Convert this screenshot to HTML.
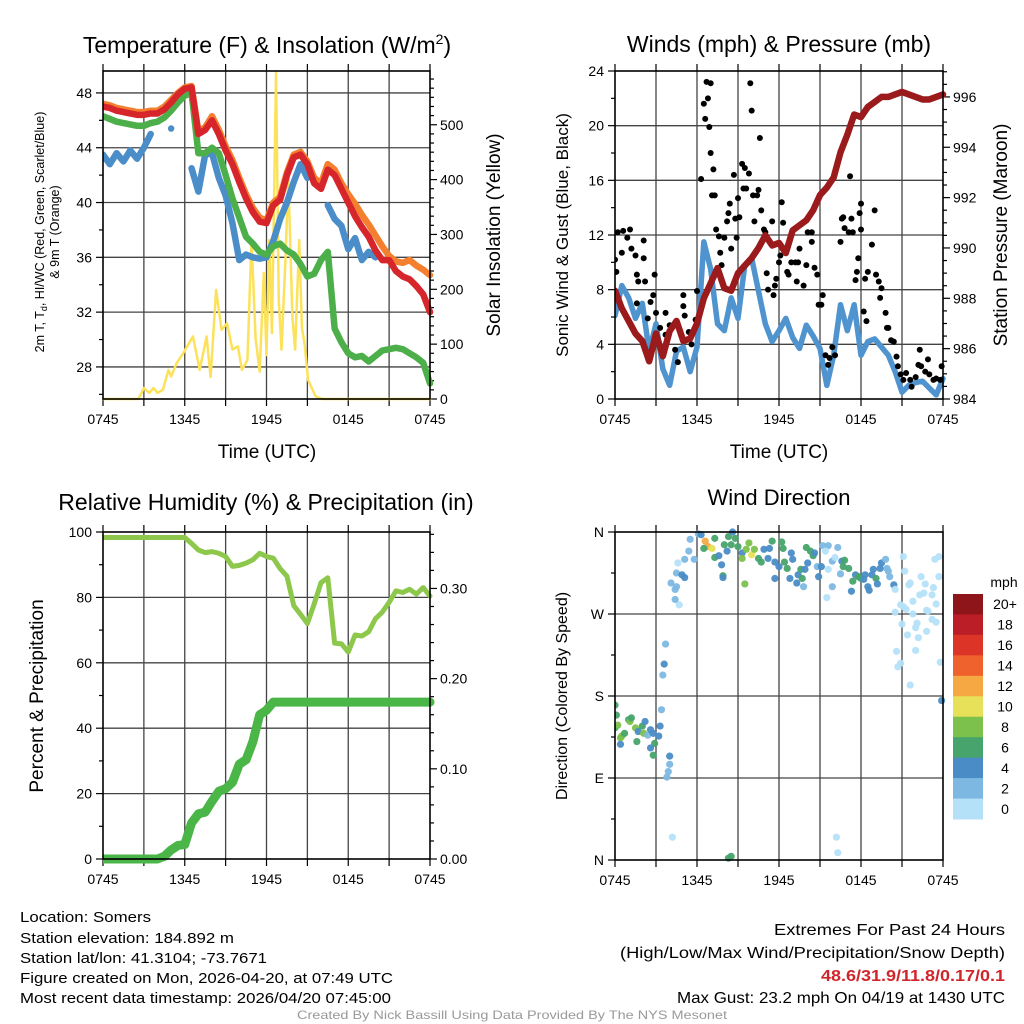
<!DOCTYPE html>
<html><head><meta charset="utf-8"><style>
html,body{margin:0;padding:0;background:#fff;}
svg{display:block;font-family:"Liberation Sans",Arial,sans-serif;}
</style></head><body>
<svg id="fig" width="1024" height="1024" viewBox="0 0 1024 1024" xmlns="http://www.w3.org/2000/svg">
<rect width="1024" height="1024" fill="#fff"/>
<g id="layer"></g>
<text x="267" y="53" font-size="23" text-anchor="middle">Temperature (F) &amp; Insolation (W/m<tspan font-size="14" dy="-9">2</tspan><tspan dy="9">)</tspan></text>
<text x="779" y="52" font-size="23" text-anchor="middle">Winds (mph) &amp; Pressure (mb)</text>
<text x="266" y="510" font-size="23" text-anchor="middle">Relative Humidity (%) &amp; Precipitation (in)</text>
<text x="779" y="505" font-size="22" text-anchor="middle">Wind Direction</text>
<text x="267" y="458" font-size="19" text-anchor="middle">Time (UTC)</text>
<text x="779" y="458" font-size="19" text-anchor="middle">Time (UTC)</text>
<text transform="translate(44,232) rotate(-90)" font-size="12.5" text-anchor="middle">2m T, T<tspan font-size="9" dy="3">d</tspan><tspan dy="-3">, HI/WC (Red, Green, Scarlet/Blue)</tspan></text>
<text transform="translate(59,232) rotate(-90)" font-size="12.5" text-anchor="middle">&amp; 9m T (Orange)</text>
<text transform="translate(500,235) rotate(-90)" font-size="19" text-anchor="middle">Solar Insolation (Yellow)</text>
<text transform="translate(568,235) rotate(-90)" font-size="17" text-anchor="middle">Sonic Wind &amp; Gust (Blue, Black)</text>
<text transform="translate(1007,235) rotate(-90)" font-size="19" text-anchor="middle">Station Pressure (Maroon)</text>
<text transform="translate(43,696) rotate(-90)" font-size="19" text-anchor="middle">Percent &amp; Precipitation</text>
<text transform="translate(567,696) rotate(-90)" font-size="16" text-anchor="middle">Direction (Colored By Speed)</text>
<g font-size="15">
<text x="20" y="922" textLength="131" lengthAdjust="spacingAndGlyphs">Location: Somers</text>
<text x="20" y="943" textLength="214" lengthAdjust="spacingAndGlyphs">Station elevation: 184.892 m</text>
<text x="20" y="963" textLength="247" lengthAdjust="spacingAndGlyphs">Station lat/lon: 41.3104; -73.7671</text>
<text x="20" y="983" textLength="373" lengthAdjust="spacingAndGlyphs">Figure created on Mon, 2026-04-20, at 07:49 UTC</text>
<text x="20" y="1003" textLength="371" lengthAdjust="spacingAndGlyphs">Most recent data timestamp: 2026/04/20 07:45:00</text>
</g>
<g font-size="16" text-anchor="end">
<text x="1005" y="935" textLength="231" lengthAdjust="spacingAndGlyphs">Extremes For Past 24 Hours</text>
<text x="1005" y="958" textLength="385" lengthAdjust="spacingAndGlyphs">(High/Low/Max Wind/Precipitation/Snow Depth)</text>
<text x="1005" y="981" fill="#d0262b" font-weight="bold" textLength="184" lengthAdjust="spacingAndGlyphs">48.6/31.9/11.8/0.17/0.1</text>
<text x="1005" y="1003" textLength="328" lengthAdjust="spacingAndGlyphs">Max Gust: 23.2 mph On 04/19 at 1430 UTC</text>
</g>
<text x="512" y="1019" font-size="12" fill="#999" text-anchor="middle" textLength="430" lengthAdjust="spacingAndGlyphs">Created By Nick Bassill Using Data Provided By The NYS Mesonet</text>
</svg>
<script>
// ---------- DATA ----------
const halfHours = [0,0.5,1,1.5,2,2.5,3,3.5,4,4.5,5,5.5,6,6.5,7,7.5,8,8.5,9,9.5,10,10.5,11,11.5,12,12.5,13,13.5,14,14.5,15,15.5,16,16.5,17,17.5,18,18.5,19,19.5,20,20.5,21,21.5,22,22.5,23,23.5,24];
const timeTickLabels = ["0745","1345","1945","0145","0745"];
const temp2m = [47.0,46.9,46.7,46.6,46.5,46.4,46.4,46.5,46.5,46.8,47.3,47.9,48.3,48.4,45.0,45.3,46.0,45.0,43.8,42.8,41.5,40.3,39.3,38.6,38.5,39.8,40.2,42.0,43.3,43.5,42.8,41.4,41.0,42.4,42.0,41.0,40.0,39.0,38.2,37.5,36.5,35.8,35.8,35.0,34.6,34.4,33.9,33.3,32.0];
const temp9m = [47.2,47.1,46.9,46.8,46.7,46.6,46.6,46.7,46.7,47.0,47.5,48.0,48.4,48.5,45.2,45.5,46.3,45.3,44.1,43.1,41.8,40.6,39.6,38.9,38.7,40.0,40.4,42.2,43.5,43.7,43.0,41.8,41.4,42.8,42.4,41.4,40.6,39.9,39.1,38.4,37.6,36.8,36.1,35.7,35.6,35.8,35.4,35.1,34.7];
const heatIndexWC = [46.3,46.1,45.9,45.8,45.7,45.6,45.6,45.8,45.9,46.2,46.7,47.3,47.8,48.0,43.6,43.6,44.0,43.6,42.0,40.3,38.9,37.5,37.0,36.4,36.2,36.8,37.0,36.5,36.2,35.5,34.6,34.8,35.8,36.4,30.8,29.8,29.0,28.7,28.8,28.4,28.8,29.2,29.3,29.4,29.3,29.0,28.7,28.3,26.8];
const dewPoint = [43.5,42.8,43.6,43.0,43.8,43.2,44.0,45.0,null,null,45.4,null,null,42.5,40.8,43.5,43.6,41.8,40.5,38.5,35.8,36.2,36.0,35.9,36.0,37.2,38.8,40.0,41.5,42.8,41.8,null,null,39.8,38.8,38.3,36.6,37.4,35.8,36.4,36.0,null,null,null,null,null,null,null,null];
const solarHours = [0,2.6,3.0,3.4,3.7,4.0,4.4,4.8,5.0,5.4,5.9,6.6,7.1,7.6,7.9,8.3,8.7,9.1,9.5,9.9,10.2,10.6,10.9,11.2,11.5,11.8,12.0,12.2,12.4,12.7,12.9,13.1,13.4,13.6,13.9,14.1,14.4,14.6,14.8,15.05,15.6,16.1,24];
const solarValues = [0,0,20,11,20,11,17,53,41,65,84,114,53,114,40,199,126,138,90,96,53,71,290,110,50,230,80,290,120,595,180,90,260,405,150,90,290,130,100,35,5,0,0];
const sonicWind = [6.1,8.3,7.4,5.9,7.0,3.5,5.5,2.2,1.0,3.5,3.8,2.0,3.8,11.5,9.5,5.5,5.0,7.4,5.9,9.8,10.3,7.9,5.5,4.2,5.0,5.9,4.5,3.7,5.4,4.6,3.7,1.0,3.2,6.9,5.0,6.9,3.2,4.2,4.4,3.8,3.2,2.0,0.5,1.0,1.2,1.3,0.8,0.3,1.5];
const pressure = [988.3,987.6,987.1,986.6,986.3,985.5,986.6,985.7,986.7,987.1,986.3,986.4,987.0,988.0,988.6,989.2,988.4,988.3,989.0,989.3,989.6,990.0,990.5,990.1,990.2,989.8,990.7,990.9,991.1,991.5,992.1,992.4,992.8,993.8,994.5,995.3,995.2,995.6,995.8,996.0,996.0,996.1,996.2,996.1,996.0,995.9,995.9,996.0,996.1];
const gustHours = [0.0,0.1,0.2,0.5,0.6,0.9,1.1,1.2,1.5,1.6,2.1,2.1,1.7,2.2,1.6,2.6,2.4,2.9,2.8,3.0,3.3,3.7,3.7,4.0,4.4,4.6,5.0,5.0,5.1,5.4,5.6,5.9,6.0,6.3,6.6,6.5,6.8,6.7,7.0,6.9,7.0,7.2,7.1,7.3,7.4,7.6,7.7,7.8,8.0,8.2,8.3,8.4,8.5,8.7,8.8,8.9,9.0,9.1,9.3,9.4,9.5,9.6,9.8,9.9,10.0,10.1,10.2,10.4,10.5,10.6,10.7,10.9,11.0,11.1,11.2,11.5,11.6,11.7,11.8,12.0,12.1,12.2,12.3,12.6,12.7,12.9,13.2,13.4,13.3,13.5,13.8,14.0,14.1,14.4,14.4,14.6,14.8,14.9,15.1,15.2,15.4,15.6,15.7,15.9,16.1,16.5,16.6,16.7,16.8,17.1,17.2,17.3,17.4,17.6,17.7,17.8,17.9,18.0,18.0,18.2,18.3,18.4,18.5,18.8,19.0,19.1,19.3,19.4,19.5,19.8,19.9,20.0,20.2,20.4,20.6,20.7,20.9,21.1,21.3,21.6,21.7,22.0,22.2,22.3,22.4,22.7,22.9,23.0,23.3,23.5,23.8,23.9];
const gustValues = [10.2,9.3,12.2,10.7,12.3,11.8,12.4,11.0,10.5,9.1,11.6,10.3,8.6,8.6,7.0,7.1,5.9,9.1,7.6,6.3,5.2,6.3,4.7,5.4,3.6,2.7,7.6,6.8,6.1,4.9,4.0,5.8,7.9,16.1,20.5,21.6,22.0,23.2,23.1,19.9,18.0,16.8,14.9,14.9,12.4,11.9,10.7,9.8,11.8,13.0,13.6,14.3,11.0,16.4,13.2,11.8,14.7,13.3,17.2,15.4,16.9,15.4,16.5,23.1,21.1,14.9,13.0,14.9,15.3,19.1,13.8,12.4,12.2,9.2,8.0,13.0,7.6,8.3,8.8,10.0,10.5,14.4,12.9,9.3,9.1,10.0,10.0,10.0,8.6,11.0,8.3,9.8,12.2,12.2,11.5,9.6,9.1,6.9,6.9,7.6,3.2,2.5,3.0,3.8,3.2,11.5,13.2,13.3,12.5,12.2,16.3,13.2,12.2,8.7,9.3,10.3,13.6,14.3,12.4,6.4,8.8,5.7,9.3,11.3,13.8,9.1,8.6,7.4,8.1,6.3,5.2,5.2,4.3,4.2,3.1,2.4,1.8,1.4,1.9,1.4,0.9,1.6,2.5,3.6,2.4,2.0,2.9,1.8,1.4,1.5,1.4,2.4];
const relHumidity = [98.3,98.3,98.3,98.3,98.3,98.3,98.3,98.3,98.3,98.3,98.3,98.3,98.3,96.5,94.5,93.7,94.0,93.5,92.5,89.5,89.8,90.5,91.5,93.5,92.5,92.0,88.8,86.5,77.5,74.8,72.0,78.0,84.5,86.0,66.0,65.8,63.3,68.5,68.2,69.5,73.5,75.5,78.5,82.0,81.5,82.5,81.0,83.0,80.4];
const precipTotal = [0,0,0,0,0,0,0,0,0,0.003,0.01,0.015,0.016,0.04,0.05,0.052,0.064,0.075,0.078,0.085,0.105,0.11,0.13,0.16,0.165,0.174,0.174,0.174,0.174,0.174,0.174,0.174,0.174,0.174,0.174,0.174,0.174,0.174,0.174,0.174,0.174,0.174,0.174,0.174,0.174,0.174,0.174,0.174,0.174];
const dirHours = [0,0.1,0,0.2,0.4,0.5,0.7,1.0,1.1,1.2,1.5,0.4,1.6,1.7,2.0,2.1,2.2,2.4,2.6,2.8,3.2,3.3,2.9,2.6,2.8,3.4,4.0,4.0,3.9,3.8,3.7,3.6,3.5,4.2,8.3,8.5,16.2,16.3,23.9,23.8,21.6,4.4,4.7,4.4,4.1,4.5,4.5,4.9,5.1,4.6,5.1,5.4,5.8,5.5,6.1,6.3,6.6,6.8,7.1,7.3,6.5,7.3,7.6,7.8,7.9,7.9,8.2,8.0,8.3,8.6,8.8,8.5,9.0,9.3,9.3,9.5,9.6,9.8,10.0,10.2,10.5,10.7,10.9,11.3,11.5,11.2,11.7,12.0,12.2,12.3,12.4,12.6,11.7,12.8,12.9,13.0,13.3,13.4,13.7,13.8,13.6,13.9,14.1,14.0,14.3,14.5,14.6,14.8,14.9,15.1,15.2,15.6,15.4,15.6,15.5,15.9,15.9,16.1,16.3,16.5,16.6,16.8,16.7,17.1,17.3,17.4,17.6,17.8,18.0,18.2,18.3,18.5,18.6,18.8,18.9,19.1,19.2,19.4,19.5,19.8,19.9,20.1,20.4,20.5,20.0,21.1,21.2,21.5,21.6,22.4,22.7,23.3,23.2,23.4,23.7,23.7,22.3,22.6,21.8,21.1,20.9,20.5,21.3,21.8,22.1,22.0,22.2,21.4,21.0,22.8,22.8,23.2,23.5,23.5,20.6,20.7,20.9,22.0,22.9];
const dirDegrees = [170,159,145,148,134,136,139,154,152,156,145,127,130,141,147,139,152,137,143,139,136,147,128,123,115,165,114,105,97,91,237,215,203,25,2,4,25,8,175,217,192,297,280,286,304,300,315,313,310,326,330,339,330,352,358,357,350,344,342,353,342,332,334,324,312,310,339,346,355,360,353,346,344,337,331,303,341,348,335,341,331,327,341,342,350,331,327,322,349,342,327,320,309,309,337,330,304,313,309,300,319,319,326,343,339,334,337,322,311,322,345,345,339,319,288,300,328,332,343,314,328,329,322,320,295,306,313,311,309,308,313,300,296,313,319,309,303,320,326,330,320,311,302,297,317,333,317,302,304,311,303,299,291,330,333,311,291,293,284,278,280,272,275,270,260,255,244,247,259,274,251,264,261,281,229,212,216,230,273];
const dirSpeeds = [7,7,7,9,9,9,7,7,9,7,9,5,7,5,7,9,5,3,5,5,5,5,7,5,7,3,5,3,3,3,3,5,3,1,7,7,1,1,5,1,1,3,1,3,3,3,3,5,5,1,3,3,3,3,3,5,13,13,11,7,7,7,5,5,7,5,5,7,7,5,7,7,7,5,9,9,9,9,11,9,7,7,5,5,7,5,5,5,7,7,7,7,5,5,5,5,5,5,7,3,7,5,5,7,7,7,5,3,5,5,3,3,1,1,1,3,3,1,3,3,5,7,7,7,5,7,5,7,7,5,5,5,5,5,5,7,5,5,5,3,3,3,5,1,3,1,1,1,1,1,1,1,1,1,1,1,1,1,1,1,1,1,1,1,1,1,1,1,1,1,1,1,1,1,1,1,1,1,1];
const speedBinLabels = ["0","2","4","6","8","10","12","14","16","18","20+"];
const speedBinColors = ["#b5e1f8","#7db8e3","#4a8dc6","#47a46c","#7cc14b","#e6e158","#f6a943","#f0622d","#dc3427","#bb1e26","#8e1519"];
const tempTicks = [28,32,36,40,44,48];
const solarTicks = [0,100,200,300,400,500];
const windTicks = [0,4,8,12,16,20,24];
const pressTicks = [984,986,988,990,992,994,996];
const rhTicks = [0,20,40,60,80,100];
const precipTicks = [0,0.1,0.2,0.3];
const dirTickValues = [0,90,180,270,360];
const dirTickLabels = ["N","E","S","W","N"];

// ---------- HELPERS ----------
const NS = "http://www.w3.org/2000/svg";
const layer = document.getElementById('layer');
function mk(tag, attrs, parent){ const e=document.createElementNS(NS,tag); for(const k in attrs) e.setAttribute(k,attrs[k]); (parent||layer).appendChild(e); return e; }
function lin(d0,d1,r0,r1){ return v => r0 + (v-d0)/(d1-d0)*(r1-r0); }

function panel(p){
  const g = mk('g',{});
  
  
  const X = lin(0,24,p.x0,p.x1);
  const YL = lin(p.l0,p.l1,p.y1,p.y0);
  const YR = p.r0!==undefined ? lin(p.r0,p.r1,p.y1,p.y0) : null;
  const grid = mk('g',{stroke:'#444','stroke-width':1.3},g);
  
  
  for(let h=3;h<24;h+=3){ mk('line',{x1:X(h),x2:X(h),y1:p.y0,y2:p.y1},grid); }
  p.lt.forEach(v=>{ const y=YL(v); if(y>p.y0+1 && y<p.y1-1) mk('line',{x1:p.x0,x2:p.x1,y1:y,y2:y},grid); });
  const ax = mk('g',{stroke:'#000','stroke-width':1.2},g);
  for(let h=0;h<=24;h+=3){ mk('line',{x1:X(h),x2:X(h),y1:p.y1,y2:p.y1+7},ax); mk('line',{x1:X(h),x2:X(h),y1:p.y0,y2:p.y0-7},ax); }
  const ls = p.lt[1]-p.lt[0];
  for(let v=p.lt[0]-ls; v<=p.l1; v+=ls/2){ const y=YL(v); if(y<p.y0-0.5||y>p.y1+0.5) continue; const major=Math.abs(((v-p.lt[0])/ls)-Math.round((v-p.lt[0])/ls))<0.01; mk('line',{x1:p.x0,x2:p.x0-(major?7:4),y1:y,y2:y},ax); }
  if(YR){ const rs=p.rt[1]-p.rt[0];
    for(let v=p.rt[0]-rs; v<=p.r1; v+=rs/(p.rminor||2)){ const y=YR(v); if(y<p.y0-0.5||y>p.y1+0.5) continue; const major=Math.abs(((v-p.rt[0])/rs)-Math.round((v-p.rt[0])/rs))<0.01; mk('line',{x1:p.x1,x2:p.x1+(major?7:4),y1:y,y2:y},ax); } }
  const lab = mk('g',{'font-size':14,fill:'#000'},g);
  timeTickLabels.forEach((t,i)=>{ const e=mk('text',{x:X(i*6),y:p.y1+25,'text-anchor':'middle'},lab); e.textContent=t;
    
     });
  (p.ll||p.lt).forEach((t,i)=>{ const e=mk('text',{x:p.x0-11,y:YL(p.lt[i])+5,'text-anchor':'end'},lab); e.textContent=t;
    
     });
  if(YR) (p.rl||p.rt).forEach((t,i)=>{ const e=mk('text',{x:p.x1+10,y:YR(p.rt[i])+5,'text-anchor':'start'},lab); e.textContent=t;
    
     });
  const clipId = p.name+'-clip';
  const cp = mk('clipPath',{id:clipId},g); mk('rect',{x:p.x0,y:p.y0-6,width:p.x1-p.x0+6,height:p.y1-p.y0+12},cp);
  const plot = mk('g',{'clip-path':'url(#'+clipId+')'},g);
  return {g,plot,X,YL,YR,p};
}
function frame(P){ const p=P.p; const r=mk('rect',{x:p.x0,y:p.y0,width:p.x1-p.x0,height:p.y1-p.y0,fill:'none',stroke:'#000','stroke-width':1.6},P.g);
  
   }
function series(P, hours, vals, Y, color, w, name, op){
  let d='', pen=false, singles=[];
  for(let i=0;i<hours.length;i++){ const v=vals[i]; if(v===null){pen=false;continue;}
    const prevNull = i===0||vals[i-1]===null, nextNull = i===hours.length-1||vals[i+1]===null;
    if(prevNull&&nextNull){ singles.push([P.X(hours[i]),Y(v)]); pen=false; continue; }
    d += (pen?'L':'M')+P.X(hours[i]).toFixed(2)+' '+Y(v).toFixed(2)+' '; pen=true; }
  const path = mk('path',{d:d,fill:'none',stroke:color,'stroke-width':w,'stroke-linejoin':'round','stroke-linecap':'round',opacity:op||1},P.plot);
  
  
  singles.forEach(s=>{ const c=mk('circle',{cx:s[0],cy:s[1],r:w/2,fill:color},P.plot);
    
     });
}

// ---------- PANEL 1 ----------
const P1 = panel({name:'temperature-panel',x0:103,x1:430,y0:71,y1:399,l0:25.66,l1:49.6,lt:tempTicks,r0:0,r1:598,rt:solarTicks,rminor:6});
series(P1, solarHours, solarValues, P1.YR, '#fce25a', 2.5, 'insolation-line');
series(P1, halfHours, dewPoint, P1.YL, '#4a8dc8', 6.5, 'dewpoint-line');
series(P1, halfHours, temp9m, P1.YL, '#f47f2e', 6.5, 'temp-9m-line');
series(P1, halfHours, heatIndexWC, P1.YL, '#4daf4a', 6.5, 'heat-index-line');
series(P1, halfHours, temp2m, P1.YL, '#d7262b', 6.5, 'temp-2m-line');
frame(P1);

// ---------- PANEL 2 ----------
const P2 = panel({name:'wind-panel',x0:615,x1:943,y0:71,y1:399,l0:0,l1:24,lt:windTicks,r0:984,r1:997.03,rt:pressTicks,rminor:4});
series(P2, halfHours, sonicWind, P2.YL, '#4f93cf', 5.5, 'sonic-wind-line');
gustHours.forEach((h,i)=>{ const c=mk('circle',{cx:P2.X(h),cy:P2.YL(gustValues[i]),r:3,fill:'#000'},P2.plot);
  
   });
series(P2, halfHours, pressure, P2.YR, '#9b1a1c', 6.5, 'pressure-line');
frame(P2);

// ---------- PANEL 3 ----------
const P3 = panel({name:'humidity-panel',x0:103,x1:430,y0:532,y1:859,l0:0,l1:100,lt:rhTicks,r0:0,r1:0.3626,rt:precipTicks,rl:["0.00","0.10","0.20","0.30"],rminor:5});
series(P3, halfHours, relHumidity, P3.YL, '#8dc84c', 5, 'rh-line');
series(P3, halfHours, precipTotal, P3.YR, '#49b647', 9, 'precip-line');
frame(P3);

// ---------- PANEL 4 ----------
const P4 = panel({name:'direction-panel',x0:615,x1:943,y0:532,y1:860,l0:0,l1:360,lt:dirTickValues,ll:dirTickLabels});
function binOf(s){ return Math.min(10, Math.floor(s/2)); }
dirHours.forEach((h,i)=>{ const c=mk('circle',{cx:P4.X(h),cy:P4.YL(dirDegrees[i]),r:3.6,fill:speedBinColors[binOf(dirSpeeds[i])],opacity:0.95},P4.plot);
  
   });
frame(P4);

// ---------- colorbar ----------
const cb = mk('g',{});


const cbTop=594, cbH=225, bh=cbH/speedBinColors.length;
const ut = mk('text',{x:1004,y:587,'font-size':14,'text-anchor':'middle'},cb); ut.textContent='mph';
for(let i=0;i<speedBinColors.length;i++){ const k=speedBinColors.length-1-i; const y=cbTop+i*bh;
  const r=mk('rect',{x:953,y:y,width:30,height:bh+0.5,fill:speedBinColors[k]},cb);
  
  
  const t=mk('text',{x:1005,y:y+bh/2+5,'font-size':14,'text-anchor':'middle'},cb); t.textContent=speedBinLabels[k];
  
   }
</script>
</body></html>
